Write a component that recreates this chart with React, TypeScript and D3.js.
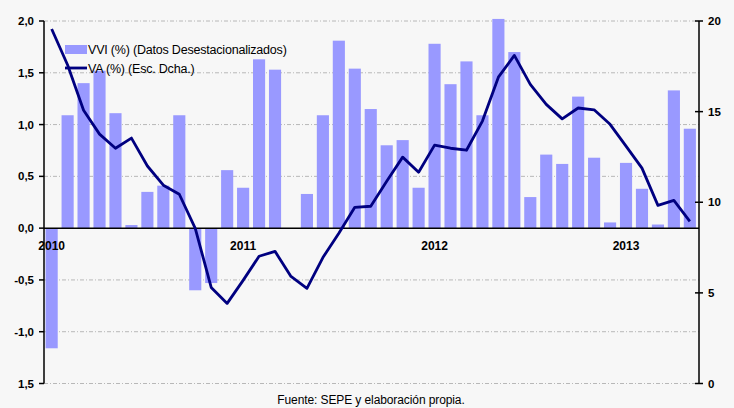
import React from "react";
import * as d3 from "d3";

const months: string[] = [];
for (let y = 2010; y <= 2013; y++) {
  for (let m = 1; m <= 12; m++) {
    if (y === 2013 && m > 5) break;
    months.push(`${y}-${String(m).padStart(2, "0")}`);
  }
}

const vviValues: number[] = [
  -1.16, 1.09, 1.4, 1.52, 1.11, 0.03, 0.35, 0.41, 1.09, -0.6, -0.53, 0.56,
  0.39, 1.63, 1.53, 0, 0.33, 1.09, 1.81, 1.54, 1.15, 0.8, 0.85, 0.39,
  1.78, 1.39, 1.61, 1.09, 2.02, 1.7, 0.3, 0.71, 0.62, 1.27, 0.68, 0.055,
  0.63, 0.38, 0.035, 1.33, 0.96,
];

const vaValues: number[] = [
  19.56, 17.57, 15.08, 13.76, 12.98, 13.54, 12.0, 10.94, 10.44, 8.56, 5.3, 4.42,
  5.69, 7.02, 7.29, 5.91, 5.25, 6.95, 8.29, 9.72, 9.78, 11.16, 12.49, 11.66,
  13.15, 12.98, 12.87, 14.48, 16.9, 18.1, 16.5, 15.4, 14.6, 15.2, 15.1, 14.3,
  13.1, 11.88, 9.83, 10.1, 8.95,
];

const leftTicks: number[] = [2, 1.5, 1, 0.5, 0, -0.5, -1, -1.5];
const leftTickLabels: string[] = ["2,0", "1,5", "1,0", "0,5", "0,0", "-0,5", "-1,0", "1,5"];
const rightTicks: number[] = [20, 15, 10, 5, 0];
const rightTickLabels: string[] = ["20", "15", "10", "5", "0"];
const yearLabels: string[] = ["2010", "2011", "2012", "2013"];
const yearMonths: string[] = ["2010-01", "2011-01", "2012-01", "2013-01"];

const legendLabels = ["VVI (%) (Datos Desestacionalizados)", "VA (%) (Esc. Dcha.)"];
const sourceText = "Fuente: SEPE y elaboración propia.";

export default function App() {
  const W = 734;
  const H = 408;
  const left = 44;
  const right = 699;
  const top = 21;
  const bottom = 383.5;

  const x = d3
    .scaleBand<string>()
    .domain(months)
    .range([left, 697.5])
    .paddingInner(0.24)
    .paddingOuter(0.1);
  const yL = d3.scaleLinear().domain([-1.5, 2]).range([bottom, top]);
  const yR = d3.scaleLinear().domain([0, 20]).range([bottom, top]);
  const cx = (m: string) => (x(m) as number) + x.bandwidth() / 2;

  const line = d3
    .line<number>()
    .x((_, i) => cx(months[i]))
    .y((d) => yR(d));

  const font = "'Liberation Sans', Arial, sans-serif";
  const barColor = "#9999ff";
  const lineColor = "#000080";

  return (
    <svg
      width={W}
      height={H}
      style={{ position: "absolute", left: 0, top: 0, background: "#f7f7f7" }}
      fontFamily={font}
    >
      <rect x={0} y={0} width={W} height={H} fill="#f7f7f7" />
      {leftTicks
        .filter((t) => t !== 0)
        .map((t) => (
          <line
            key={"g" + t}
            x1={left}
            x2={right}
            y1={yL(t)}
            y2={yL(t)}
            stroke="#b8b8b8"
            strokeWidth={1}
            strokeDasharray="4,2,1,2"
          />
        ))}
      {vviValues.map((v, i) => (
        <rect
          key={"b" + i}
          x={x(months[i])}
          width={x.bandwidth()}
          y={Math.min(yL(v), yL(0))}
          height={Math.abs(yL(v) - yL(0))}
          fill={barColor}
        />
      ))}
      <line x1={left} x2={right} y1={yL(0)} y2={yL(0)} stroke="#000" strokeWidth={1.5} />
      <path d={line(vaValues) || ""} fill="none" stroke={lineColor} strokeWidth={2.8} strokeLinejoin="round" />
      {/* left axis */}
      <line x1={left} x2={left} y1={top} y2={bottom} stroke="#000" strokeWidth={1.5} />
      {leftTicks.map((t, i) => (
        <g key={"lt" + t}>
          <line x1={left - 5} x2={left} y1={yL(t)} y2={yL(t)} stroke="#000" strokeWidth={1.5} />
          <text
            x={34}
            y={yL(t)}
            dy="0.35em"
            textAnchor="end"
            fontSize={11.5}
            fontWeight="bold"
            fill="#000"
          >
            {leftTickLabels[i]}
          </text>
        </g>
      ))}
      {/* right axis */}
      <line x1={right} x2={right} y1={top} y2={bottom} stroke="#000" strokeWidth={1.5} />
      {rightTicks.map((t, i) => (
        <g key={"rt" + t}>
          <line x1={right - 4} x2={right + 4} y1={yR(t)} y2={yR(t)} stroke="#000" strokeWidth={1.5} />
          <text x={708} y={yR(t)} dy="0.35em" textAnchor="start" fontSize={11.5} fontWeight="bold" fill="#000">
            {rightTickLabels[i]}
          </text>
        </g>
      ))}
      {yearLabels.map((l, i) => (
        <text
          key={l}
          x={cx(yearMonths[i])}
          y={250}
          textAnchor="middle"
          fontSize={12}
          fontWeight="bold"
          fill="#000"
        >
          {l}
        </text>
      ))}
      {/* legend */}
      <rect x={65} y={45} width={22} height={9} fill={barColor} />
      <text x={88} y={54} fontSize={12.5} fill="#000" letterSpacing={-0.2}>
        {legendLabels[0]}
      </text>
      <line x1={65} x2={87} y1={68} y2={68} stroke={lineColor} strokeWidth={2.8} />
      <text x={88} y={72.5} fontSize={12.5} fill="#000" letterSpacing={-0.2}>
        {legendLabels[1]}
      </text>
      <text x={371} y={404} textAnchor="middle" fontSize={12} fill="#000" letterSpacing={-0.1}>
        {sourceText}
      </text>
    </svg>
  );
}
